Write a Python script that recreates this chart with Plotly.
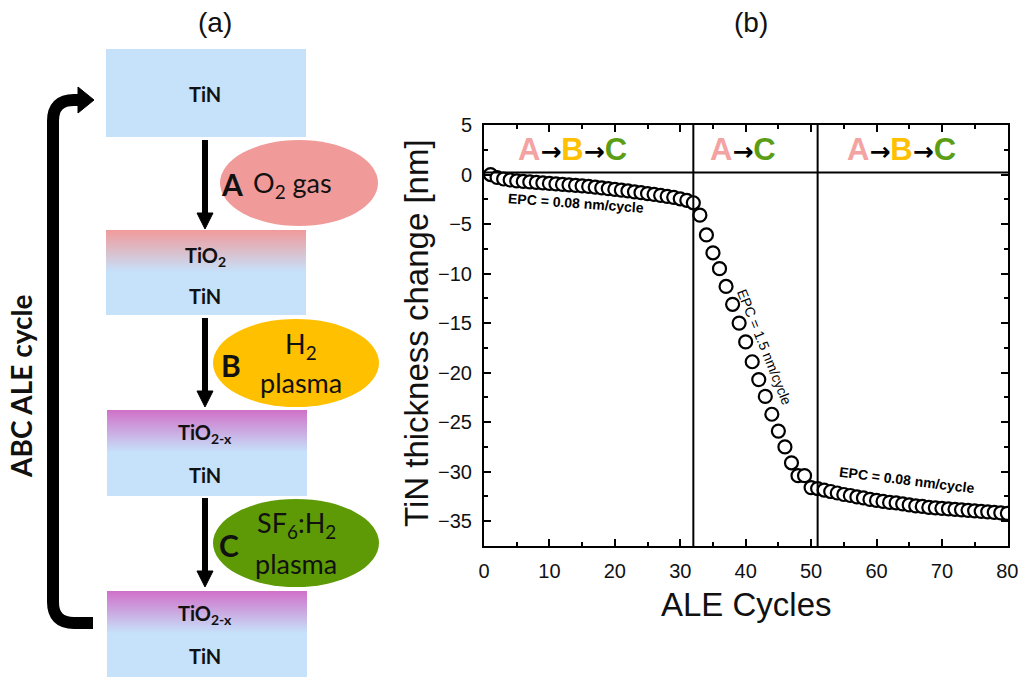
import plotly.graph_objects as go

# ---------------- data (panel b) ----------------
cycles = list(range(1, 81))
thickness_abc1 = [0.0, -0.3, -0.45, -0.55, -0.65, -0.7, -0.75, -0.8, -0.85, -0.9,
                  -0.95, -1.0, -1.05, -1.1, -1.15, -1.2, -1.28, -1.35, -1.42, -1.5,
                  -1.58, -1.66, -1.75, -1.83, -1.92, -2.0, -2.1, -2.2, -2.3, -2.45,
                  -2.6, -2.85]
thickness_ac = [-4.1, -6.1, -7.9, -9.5, -11.3, -13.1, -15.0, -16.9, -18.9, -20.7,
                -22.4, -24.2, -25.9, -27.5, -29.1, -30.4, -30.4, -31.6, -31.7]
thickness_abc2 = [-31.85, -32.0, -32.15, -32.3, -32.4, -32.55, -32.65, -32.8, -32.9,
                  -33.0, -33.1, -33.15, -33.25, -33.35, -33.45, -33.5, -33.6, -33.65,
                  -33.7, -33.75, -33.8, -33.85, -33.9, -33.95, -34.0, -34.05, -34.1,
                  -34.15, -34.2]
thickness = thickness_abc1 + thickness_ac + thickness_abc2

phase_bounds = [32, 51]          # cycles where the recipe switches
band_y = 0.2                      # separator of the recipe header band
x_ticks = [0, 10, 20, 30, 40, 50, 60, 70, 80]
y_ticks = [-35, -30, -25, -20, -15, -10, -5, 0, 5]

W, H = 1021, 677
ARIAL = "Liberation Sans, Arial, sans-serif"
CAL = "Lato, Carlito, Calibri, sans-serif"

PINK = "#F4A3A3"
GOLD = "#FFC000"
GREEN = "#5B9E16"
BLUE = "#C6E1FA"
ELL_A = "#F09A9A"
ELL_C = "#5E9A05"
MAGENTA = "#D070C8"

fig = go.Figure()

# main data trace
fig.add_trace(go.Scatter(
    x=cycles, y=thickness, mode="markers",
    marker=dict(symbol="circle", size=13, color="white",
                line=dict(color="black", width=2.2)),
    xaxis="x", yaxis="y", showlegend=False, hoverinfo="skip"))

shapes = []
annotations = []

# phase separators
for b in phase_bounds:
    shapes.append(dict(type="line", xref="x", yref="y", x0=b, x1=b, y0=-37.5, y1=5,
                       line=dict(color="black", width=2)))
shapes.append(dict(type="line", xref="x", yref="y", x0=0, x1=80.1, y0=band_y, y1=band_y,
                   line=dict(color="black", width=2)))

ARROW = ("<span style='font-family:DejaVu Sans;font-size:25px;color:black'>"
         "\u2192</span>")

def arrowtxt(parts):
    out = ""
    for i, (ch, col) in enumerate(parts):
        if i:
            out += ARROW
        out += f"<span style='color:{col}'>{ch}</span>"
    return "<b>" + out + "</b>"

band_labels = [(13.5, arrowtxt([("A", PINK), ("B", GOLD), ("C", GREEN)])),
               (39.6, arrowtxt([("A", PINK), ("C", GREEN)])),
               (63.8, arrowtxt([("A", PINK), ("B", GOLD), ("C", GREEN)]))]
for xx, t in band_labels:
    annotations.append(dict(xref="x", yref="y", x=xx, y=2.55, text=t, showarrow=False,
                            font=dict(family=ARIAL, size=31)))

annotations += [
    dict(xref="x", yref="y", x=14.0, y=-2.85, text="<b>EPC = 0.08 nm/cycle</b>",
         textangle=4, showarrow=False, font=dict(family=ARIAL, size=14, color="black")),
    dict(xref="x", yref="y", x=42.9, y=-17.4, text="EPC = 1.5 nm/cycle",
         textangle=68, showarrow=False, font=dict(family=ARIAL, size=14, color="black")),
    dict(xref="x", yref="y", x=64.6, y=-30.8, text="<b>EPC = 0.08 nm/cycle</b>",
         textangle=7, showarrow=False, font=dict(family=ARIAL, size=14, color="black")),
]

# axis titles (pixel coords via x2/y2)
annotations += [
    dict(xref="x2", yref="y2", x=416, y=333, text="TiN thickness change [nm]", textangle=-90,
         showarrow=False, font=dict(family=ARIAL, size=33, color="#111")),
    dict(xref="x2", yref="y2", x=746, y=604, text="ALE Cycles",
         showarrow=False, font=dict(family=ARIAL, size=33, color="#111")),
    dict(xref="x2", yref="y2", x=215, y=22, text="(a)", showarrow=False,
         font=dict(family=ARIAL, size=28, color="#111")),
    dict(xref="x2", yref="y2", x=751, y=22, text="(b)", showarrow=False,
         font=dict(family=ARIAL, size=28, color="#111")),
]

# ---------------- panel (a) diagram, pixel coordinates on x2/y2 ----------------
boxes = [(106, 306, 49, 137, None), (106, 306, 230, 315, ELL_A),
         (107, 307, 410, 496, MAGENTA), (107, 307, 591, 677, MAGENTA)]
for x0, x1, y0, y1, grad in boxes:
    shapes.append(dict(type="rect", xref="x2", yref="y2", x0=x0, x1=x1, y0=y0, y1=y1,
                       fillcolor=BLUE, line=dict(width=0), layer="below"))
    if grad:
        fig.add_trace(go.Scatter(
            x=[x0, x1, x1, x0, x0], y=[y0, y0, y0 + 42, y0 + 42, y0],
            mode="lines", fill="toself", line=dict(width=0),
            fillgradient=dict(type="vertical", start=y0, stop=y0 + 42,
                              colorscale=[[0, grad], [1, BLUE]]),
            xaxis="x2", yaxis="y2", showlegend=False, hoverinfo="skip"))

box_texts = [(205, 94, "TiN"), (205, 256, "TiO<sub>2</sub>"), (205, 296, "TiN"),
             (205, 433, "TiO<sub>2-x</sub>"), (205, 475, "TiN"),
             (205, 614, "TiO<sub>2-x</sub>"), (205, 656, "TiN")]
for xx, yy, t in box_texts:
    annotations.append(dict(xref="x2", yref="y2", x=xx, y=yy, text=f"<b>{t}</b>",
                            showarrow=False, font=dict(family=CAL, size=20, color="#111")))

# ellipses
ells = [(299, 183, 79, 43, ELL_A), (296, 363, 83, 44, GOLD), (296, 543, 83, 44, ELL_C)]
for cx, cy, rx, ry, col in ells:
    shapes.append(dict(type="circle", xref="x2", yref="y2", x0=cx - rx, x1=cx + rx,
                       y0=cy - ry, y1=cy + ry, fillcolor=col, line=dict(width=0)))

ell_texts = [
    (232, 184, "<b>A</b>", 30), (292, 184, "O<sub>2</sub> gas", 27),
    (231, 365, "<b>B</b>", 30), (301, 345, "H<sub>2</sub>", 27), (301, 382, "plasma", 27),
    (229, 545, "<b>C</b>", 30), (296, 524, "SF<sub>6</sub>:H<sub>2</sub>", 27),
    (296, 563, "plasma", 27),
]
for xx, yy, t, fs in ell_texts:
    annotations.append(dict(xref="x2", yref="y2", x=xx, y=yy, text=t, showarrow=False,
                            font=dict(family=CAL, size=fs, color="#111")))

# down arrows between stages
for ytop, ytip in [(140, 229), (318, 407), (498, 587)]:
    shapes.append(dict(type="line", xref="x2", yref="y2", x0=205, x1=205, y0=ytop,
                       y1=ytip - 12, line=dict(color="black", width=6)))
    shapes.append(dict(type="path", xref="x2", yref="y2",
                       path=f"M 197 {ytip-16} L 213 {ytip-16} L 205 {ytip} Z",
                       fillcolor="black", line=dict(color="black", width=1)))

# big cycle return arrow
shapes.append(dict(type="path", xref="x2", yref="y2",
                   path="M 93 623 L 74 623 Q 53 623 53 602 L 53 121 Q 53 100 74 100 L 82 100",
                   line=dict(color="black", width=12)))
shapes.append(dict(type="path", xref="x2", yref="y2",
                   path="M 78 87 L 94 100 L 78 113 Z",
                   fillcolor="black", line=dict(color="black", width=1)))
annotations.append(dict(xref="x2", yref="y2", x=21, y=387, text="<b>ABC ALE cycle</b>",
                        textangle=-90, showarrow=False,
                        font=dict(family=CAL, size=28, color="#111")))

axis_common = dict(showline=True, linecolor="black", linewidth=2, mirror="allticks",
                   ticks="inside", ticklen=7, tickwidth=2, tickcolor="black",
                   showgrid=False, zeroline=False, automargin=False,
                   tickfont=dict(family=ARIAL, size=20, color="#111"))

fig.update_layout(
    width=W, height=H,
    margin=dict(l=0, r=0, t=0, b=0, pad=0),
    paper_bgcolor="white", plot_bgcolor="rgba(0,0,0,0)",
    xaxis=dict(domain=[484 / W, 1008 / W], range=[0, 80.1], tickvals=x_ticks,
               minor=dict(ticks="inside", dtick=5, ticklen=4, tickwidth=2, tickcolor="black"),
               anchor="y", ticklabelstandoff=6, **axis_common),
    yaxis=dict(domain=[1 - 546 / H, 1 - 125 / H], range=[-37.5, 5], tickvals=y_ticks,
               minor=dict(ticks="inside", dtick=2.5, ticklen=4, tickwidth=2, tickcolor="black"),
               anchor="x", ticklabelstandoff=6, **axis_common),
    xaxis2=dict(domain=[0, 1], range=[0, W], visible=False, anchor="y2",
                fixedrange=True, automargin=False),
    yaxis2=dict(domain=[0, 1], range=[H, 0], visible=False, anchor="x2",
                fixedrange=True, automargin=False),
    shapes=shapes, annotations=annotations,
)

fig.write_html("out.html",
               config={"displayModeBar": False},
               post_script="document.body.style.margin='0';"
                           "document.body.style.overflow='hidden';")
